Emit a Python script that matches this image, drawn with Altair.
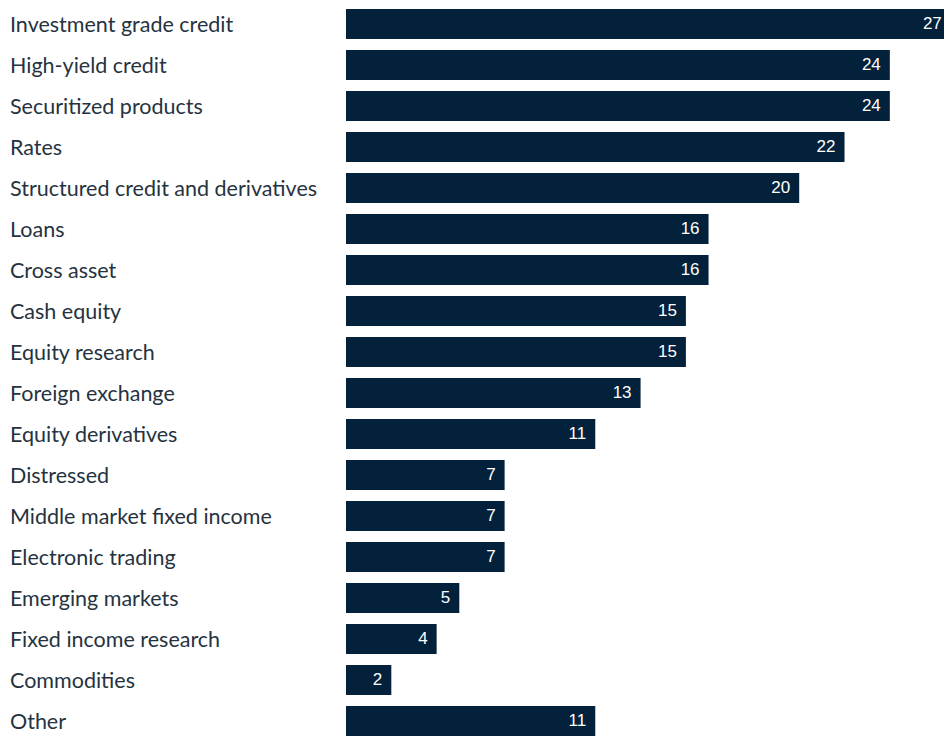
import altair as alt
import pandas as pd

categories = [
    "Investment grade credit", "High-yield credit", "Securitized products", "Rates",
    "Structured credit and derivatives", "Loans", "Cross asset", "Cash equity",
    "Equity research", "Foreign exchange", "Equity derivatives", "Distressed",
    "Middle market fixed income", "Electronic trading", "Emerging markets",
    "Fixed income research", "Commodities", "Other",
]
values = [27, 24, 24, 22, 20, 16, 16, 15, 15, 13, 11, 7, 7, 7, 5, 4, 2, 11]

df = pd.DataFrame({"category": categories, "value": values})

BAR = "#03213a"
step = 41.0
pin = 11.0 / step

y_enc = alt.Y("category:N", sort=categories, axis=None,
              scale=alt.Scale(paddingInner=pin, paddingOuter=0,
                              range=[1, 1 + step * (len(categories) - pin)]))
x_scale = alt.Scale(domain=[0, 27], range=[338, 338 + 27 * 22.66], nice=False, zero=True)

base = alt.Chart(df)

bars = base.mark_bar(color=BAR, cornerRadius=0).encode(
    x=alt.X("value:Q", scale=x_scale, axis=None),
    y=y_enc,
)

vals = base.transform_filter("datum.value < 26").mark_text(
    color="white", font="Liberation Sans", fontSize=17, align="right",
    baseline="middle", dx=-9).encode(
    x=alt.X("value:Q", scale=x_scale, axis=None),
    y=y_enc,
    text="value:Q",
)

vals_edge = base.transform_filter("datum.value >= 26").mark_text(
    color="white", font="Liberation Sans", fontSize=17, align="right",
    baseline="middle", dx=-16).encode(
    x=alt.X("value:Q", scale=x_scale, axis=None),
    y=y_enc,
    text="value:Q",
)

labels = base.mark_text(color="#26333f", font="Lato", fontSize=21.5, align="left",
                        baseline="middle", dy=2).encode(
    x=alt.value(2),
    y=y_enc,
    text="category:N",
)

chart = alt.layer(bars, vals, vals_edge, labels).properties(
    width=936, height=728, autosize=alt.AutoSizeParams(type="none"), padding=0
).configure_view(stroke=None)

chart.save("out.html", embed_options={"renderer": "svg", "actions": False})
